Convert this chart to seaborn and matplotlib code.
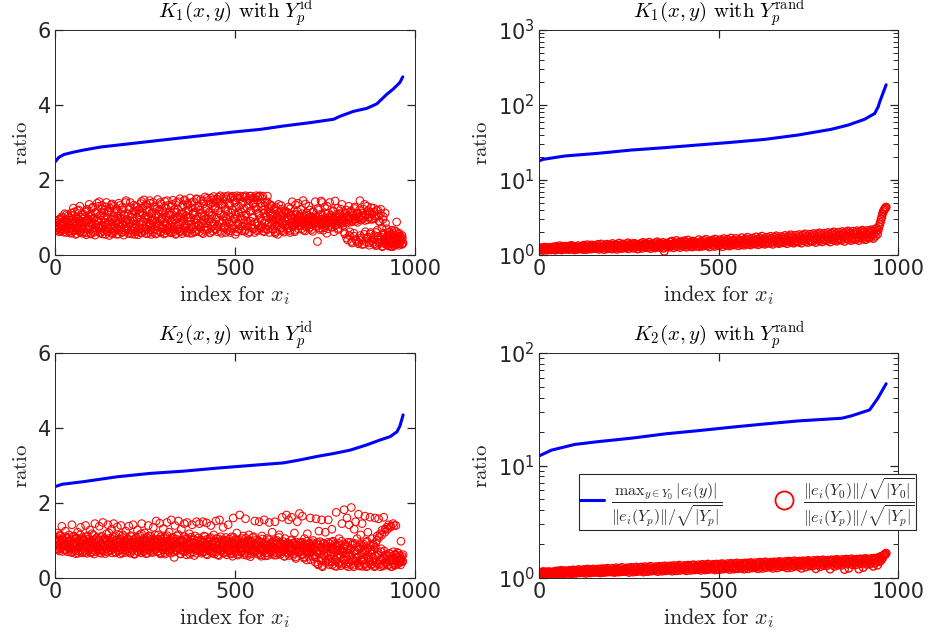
import numpy as np
import matplotlib
matplotlib.use("Agg")
import matplotlib.pyplot as plt
import seaborn as sns
from matplotlib.lines import Line2D
from matplotlib.font_manager import FontProperties
from matplotlib.ticker import LogLocator, NullFormatter

sns.set_theme(style="white")
plt.rcParams['font.family'] = ['DejaVu Sans']
AX_COLOR = "#262626"
plt.rcParams.update({
    "axes.axisbelow": False,
    "xtick.bottom": True, "xtick.top": True,
    "ytick.left": True, "ytick.right": True,
    "xtick.direction": "in", "ytick.direction": "in",
    "xtick.major.size": 6, "ytick.major.size": 6,
    "xtick.minor.size": 3.5, "ytick.minor.size": 3.5,
    "xtick.major.width": 0.9, "ytick.major.width": 0.9,
    "ytick.minor.width": 0.7,
    "xtick.color": AX_COLOR, "ytick.color": AX_COLOR,
    "xtick.labelsize": 15, "ytick.labelsize": 15,
})

# ---------------- data ----------------
# blue curves: (index, ratio)
k1_id_max_idx = [1, 10, 25, 50, 80, 127, 219, 311, 404, 496, 570, 635, 709, 774, 792, 829, 866, 894, 921, 940, 958, 966]
k1_id_max_val = [2.49, 2.60, 2.68, 2.74, 2.80, 2.88, 2.98, 3.08, 3.18, 3.28, 3.35, 3.44, 3.53, 3.62, 3.70, 3.83, 3.91, 4.03, 4.28, 4.43, 4.60, 4.75]

k1_rand_max_idx = [1, 10, 72, 165, 258, 351, 443, 536, 629, 722, 814, 861, 907, 935, 945, 949, 958, 967]
k1_rand_max_val = [18.0, 18.8, 20.9, 22.7, 25.1, 27.0, 29.3, 31.8, 34.8, 39.8, 47.4, 54.0, 64.5, 77.0, 95.0, 110.0, 143.0, 186.0]

k2_id_max_idx = [1, 20, 80, 173, 265, 358, 450, 542, 635, 681, 727, 774, 820, 866, 903, 931, 950, 958, 967]
k2_id_max_val = [2.44, 2.50, 2.57, 2.70, 2.79, 2.85, 2.93, 3.00, 3.07, 3.15, 3.24, 3.32, 3.41, 3.55, 3.68, 3.77, 3.90, 4.05, 4.35]

k2_rand_max_idx = [1, 35, 100, 165, 258, 351, 443, 536, 629, 722, 843, 870, 921, 944, 967]
k2_rand_max_val = [12.2, 13.7, 15.4, 16.3, 17.5, 19.1, 20.4, 21.9, 23.4, 24.9, 26.3, 27.6, 31.2, 39.7, 53.3]

# red circles: RMS ratio at odd indices (1, 3, 5, ...) and even indices (2, 4, 6, ...)
k1_id_rms_odd = [
    0.72, 0.80, 0.68, 0.90, 0.76, 0.62, 0.95, 0.84, 0.70, 1.02, 0.78, 0.66, 0.88, 1.10, 0.74, 0.60, 0.92, 0.81, 1.05, 0.69,
    0.85, 0.58, 1.12, 0.73, 0.95, 1.25, 0.64, 0.88, 0.55, 1.02, 0.79, 1.18, 0.67, 0.91, 1.30, 0.60, 0.83, 1.08, 0.71, 0.97,
    0.62, 1.15, 0.86, 0.54, 1.22, 0.93, 0.70, 1.35, 0.78, 0.58, 1.05, 0.88, 1.28, 0.66, 0.97, 0.53, 1.12, 0.81, 1.38, 0.74,
    0.90, 1.42, 0.60, 1.08, 0.77, 1.32, 0.56, 0.99, 1.20, 0.68, 0.87, 1.40, 0.63, 1.15, 0.82, 0.52, 1.25, 0.94, 0.71, 1.36,
    0.59, 1.02, 1.30, 0.76, 0.92, 0.55, 1.18, 0.84, 1.38, 0.66, 0.98, 1.10, 0.61, 1.27, 0.80, 0.53, 1.05, 0.89, 1.45, 0.72,
    0.95, 0.58, 1.22, 0.83, 1.40, 0.67, 1.08, 0.56, 0.91, 1.33, 0.75, 1.17, 0.62, 1.00, 1.28, 0.54, 0.86, 1.12, 0.70, 1.37,
    0.60, 1.25, 0.88, 1.47, 0.73, 1.03, 0.57, 1.35, 0.95, 0.66, 1.18, 1.45, 0.80, 0.55, 1.10, 0.92, 1.40, 0.69, 1.27, 0.84,
    1.05, 0.58, 1.48, 0.77, 1.20, 0.91, 0.62, 1.36, 1.00, 0.70, 1.13, 0.56, 1.43, 0.85, 1.24, 0.65, 0.97, 1.33, 0.74, 1.08,
    0.59, 1.30, 0.88, 1.46, 0.68, 1.15, 0.94, 0.55, 1.40, 0.79, 1.22, 1.02, 0.63, 1.50, 0.86, 1.10, 0.57, 1.34, 0.96, 0.72,
    1.45, 0.82, 1.18, 0.60, 1.38, 1.00, 0.70, 1.52, 0.90, 1.26, 0.58, 1.08, 1.42, 0.76, 1.15, 0.64, 1.50, 0.95, 1.30, 0.81,
    0.62, 1.20, 1.48, 0.87, 1.05, 0.57, 1.36, 0.75, 1.55, 0.98, 1.25, 0.66, 1.45, 0.89, 1.12, 0.60, 1.52, 1.03, 0.78, 1.40,
    1.56, 0.70, 1.30, 0.95, 1.50, 0.62, 1.18, 1.44, 0.84, 1.58, 1.07, 0.58, 1.36, 0.92, 1.55, 0.76, 1.22, 1.00, 1.48, 0.66,
    1.58, 0.88, 1.33, 0.60, 1.52, 1.12, 0.79, 1.57, 0.97, 1.40, 0.55, 1.27, 1.58, 0.85, 1.15, 0.70, 1.50, 1.03, 1.35, 0.64,
    1.56, 0.94, 1.24, 0.63, 1.58, 1.08, 0.82, 1.46, 0.58, 1.32, 1.57, 0.90, 1.18, 0.72, 1.52, 1.00, 1.40, 0.60, 1.28, 1.58,
    0.86, 1.55, 1.12, 0.66, 1.58, 0.98, 1.38, 0.75, 1.57, 1.20, 0.62, 1.30, 0.92, 1.05, 1.42, 0.68, 1.15, 0.85, 1.35, 0.96,
    1.32, 0.70, 1.10, 0.88, 1.25, 0.62, 0.98, 1.18, 0.80, 0.55, 1.35, 0.92, 1.05, 0.72, 1.22, 0.85, 0.65, 1.12, 0.95, 0.78,
    0.90, 1.15, 0.68, 0.98, 1.28, 0.82, 0.60, 1.05, 0.88, 1.42, 0.75, 0.95, 1.18, 0.66, 0.86, 1.08, 0.92, 1.38, 0.78, 1.00,
    0.86, 1.22, 0.70, 0.94, 1.45, 0.83, 1.05, 0.64, 0.90, 1.12, 0.80, 0.96, 1.30, 0.74, 0.88, 1.02, 0.68, 0.93, 1.16, 0.85,
    0.92, 1.42, 0.78, 1.00, 0.36, 0.88, 1.20, 0.72, 0.95, 1.44, 0.84, 1.06, 0.66, 0.91, 1.28, 0.80, 0.97, 0.58, 0.89, 1.12,
    0.86, 1.40, 0.94, 0.75, 1.02, 0.88, 1.18, 0.62, 0.92, 1.05, 0.82, 0.98, 1.25, 0.71, 0.90, 1.10, 0.85, 0.95, 1.35, 0.78,
    0.92, 1.08, 0.56, 0.98, 1.20, 0.85, 0.40, 1.02, 0.94, 0.62, 1.15, 0.88, 0.32, 1.05, 0.96, 0.50, 1.28, 0.90, 0.38, 1.00,
    1.12, 0.30, 0.95, 1.45, 0.45, 1.05, 0.28, 0.98, 1.22, 0.55, 0.92, 1.08, 0.35, 1.30, 0.48, 1.00, 0.26, 1.15, 0.60, 0.95,
    1.10, 0.33, 1.25, 0.52, 0.98, 0.25, 1.18, 0.66, 0.40, 1.05, 0.30, 0.88, 1.22, 0.47, 0.22, 0.95, 0.58, 0.36, 1.12, 0.28,
    0.70, 0.35, 0.52, 0.24, 0.62, 0.42, 0.30, 0.55, 0.22, 0.48, 0.38, 0.65, 0.28, 0.45, 0.88, 0.33, 0.56, 0.26, 0.42, 0.50,
    0.36, 0.28, 0.45, 0.32,
]
k1_id_rms_even = [
    0.78, 0.66, 0.85, 0.73, 0.94, 0.70, 0.82, 0.64, 0.98, 0.76, 0.88, 0.61, 0.80, 0.93, 0.68, 1.08, 0.75, 0.86, 0.63, 0.99,
    0.71, 0.92, 0.60, 1.05, 0.83, 0.67, 1.15, 0.77, 0.90, 0.57, 0.96, 0.72, 1.20, 0.84, 0.62, 1.00, 0.78, 0.58, 1.10, 0.87,
    0.76, 1.02, 0.59, 0.89, 1.18, 0.68, 0.95, 0.74, 1.08, 0.56, 0.84, 1.25, 0.71, 0.99, 0.61, 1.14, 0.80, 0.92, 0.65, 1.30,
    0.72, 1.05, 0.58, 0.93, 1.22, 0.79, 0.64, 1.12, 0.86, 0.55, 1.28, 0.75, 1.00, 0.62, 1.17, 0.88, 0.70, 1.34, 0.57, 0.97,
    0.83, 1.14, 0.63, 0.91, 1.24, 0.69, 1.03, 0.56, 0.87, 1.32, 0.74, 0.96, 0.60, 1.19, 0.82, 1.06, 0.66, 1.40, 0.78, 0.94,
    0.68, 1.10, 0.85, 0.57, 1.26, 0.76, 1.01, 0.63, 1.16, 0.90, 0.55, 1.30, 0.81, 0.97, 0.65, 1.21, 0.73, 1.07, 0.59, 1.43,
    0.79, 1.12, 0.64, 0.98, 1.32, 0.71, 0.87, 1.20, 0.58, 1.04, 0.82, 1.38, 0.67, 0.93, 1.15, 0.61, 1.28, 0.77, 1.00, 0.56,
    0.90, 1.24, 0.66, 1.09, 0.81, 1.40, 0.60, 0.97, 1.17, 0.73, 0.88, 1.30, 0.59, 1.03, 0.79, 1.45, 0.68, 1.12, 0.92, 0.63,
    1.06, 0.74, 1.35, 0.61, 0.95, 1.21, 0.84, 0.57, 1.14, 0.98, 0.69, 1.42, 0.80, 1.01, 0.62, 1.28, 0.89, 1.10, 0.66, 1.47,
    0.77, 1.05, 0.63, 1.33, 0.91, 1.18, 0.58, 1.00, 0.82, 1.40, 0.70, 1.12, 0.94, 0.61, 1.26, 0.86, 1.48, 0.67, 1.03, 0.79,
    1.30, 0.73, 1.10, 0.60, 1.44, 0.92, 1.02, 0.66, 1.22, 0.84, 1.51, 0.71, 0.97, 1.15, 0.59, 1.36, 0.88, 1.06, 0.64, 1.47,
    0.82, 1.24, 0.68, 1.40, 1.00, 0.76, 1.54, 0.90, 1.13, 0.63, 1.33, 0.86, 1.49, 0.72, 1.05, 1.27, 0.60, 1.56, 0.95, 1.17,
    0.74, 1.38, 1.02, 0.65, 1.55, 0.89, 1.20, 0.70, 1.46, 0.96, 1.09, 0.62, 1.52, 0.81, 1.30, 0.68, 1.57, 0.93, 1.14, 0.77,
    1.42, 0.85, 1.04, 0.67, 1.55, 0.91, 1.26, 0.74, 1.48, 0.62, 1.16, 1.57, 0.80, 1.00, 1.36, 0.70, 1.52, 0.88, 1.21, 0.65,
    1.45, 0.78, 1.08, 1.56, 0.72, 1.29, 0.90, 1.50, 0.64, 1.12, 0.86, 1.40, 0.69, 1.02, 1.57, 0.81, 1.24, 0.60, 1.10, 1.30,
    0.82, 1.05, 0.68, 1.20, 0.93, 0.58, 1.28, 0.76, 1.00, 0.87, 1.14, 0.66, 0.95, 1.32, 0.73, 1.08, 0.84, 0.61, 1.18, 0.90,
    0.80, 1.02, 0.72, 1.12, 0.93, 0.65, 1.24, 0.86, 0.98, 0.76, 1.08, 0.89, 0.62, 1.34, 0.83, 0.95, 1.16, 0.70, 0.91, 1.04,
    0.92, 0.78, 1.10, 0.87, 0.66, 1.00, 0.84, 1.36, 0.75, 0.95, 1.06, 0.88, 0.71, 1.20, 0.90, 0.81, 0.99, 0.63, 1.14, 0.86,
    0.89, 1.02, 0.76, 0.94, 1.24, 0.84, 0.68, 1.08, 0.91, 0.80, 1.40, 0.87, 0.97, 0.73, 1.12, 0.92, 0.85, 1.30, 0.70, 1.00,
    0.93, 0.82, 1.06, 0.89, 0.74, 1.16, 0.96, 0.86, 1.44, 0.79, 1.00, 0.91, 0.68, 1.10, 0.88, 0.95, 1.22, 0.84, 1.02, 0.90,
    0.97, 0.60, 1.12, 0.88, 0.45, 1.04, 0.93, 1.30, 0.52, 0.99, 1.18, 0.36, 0.91, 1.06, 0.58, 1.24, 0.95, 0.42, 1.10, 0.87,
    0.34, 1.02, 1.20, 0.52, 0.93, 0.40, 1.12, 0.98, 0.29, 1.35, 0.62, 1.06, 0.44, 0.94, 1.18, 0.32, 1.00, 0.56, 1.26, 0.38,
    0.96, 0.46, 1.15, 0.30, 1.04, 0.60, 0.26, 1.20, 0.50, 0.90, 0.34, 1.10, 0.42, 0.72, 0.24, 1.02, 0.54, 0.31, 0.85, 0.44,
    0.48, 0.27, 0.60, 0.38, 0.52, 0.23, 0.44, 0.66, 0.32, 0.57, 0.25, 0.46, 0.36, 0.62, 0.29, 0.50, 0.40, 0.58, 0.31, 0.47,
    0.40, 0.52, 0.30,
]

k2_id_rms_odd = [
    0.92, 1.05, 0.78, 1.20, 0.88, 0.98, 0.72, 1.12, 0.95, 1.38, 0.84, 1.02, 0.76, 0.93, 1.25, 0.86, 1.08, 0.70, 0.97, 1.15,
    0.82, 1.00, 0.68, 1.42, 0.90, 1.10, 0.75, 0.95, 0.65, 1.05, 0.87, 1.22, 0.72, 0.98, 0.80, 1.35, 0.92, 0.67, 1.08, 0.85,
    1.02, 0.74, 1.40, 0.88, 0.66, 1.12, 0.95, 0.78, 1.28, 0.84, 1.00, 0.70, 0.93, 1.15, 0.64, 1.45, 0.89, 1.05, 0.76, 0.97,
    0.82, 1.38, 0.68, 1.08, 0.92, 0.75, 1.48, 0.86, 1.02, 0.65, 0.96, 1.18, 0.79, 1.42, 0.90, 0.72, 1.06, 0.84, 1.30, 0.67,
    0.98, 1.45, 0.80, 1.12, 0.69, 0.93, 1.36, 0.86, 0.74, 1.04, 0.64, 1.40, 0.91, 0.78, 1.15, 0.83, 0.97, 0.68, 1.25, 0.88,
    0.72, 1.02, 1.38, 0.85, 0.66, 0.95, 1.10, 0.77, 1.42, 0.89, 0.63, 1.05, 0.82, 0.96, 1.28, 0.70, 0.92, 1.15, 0.80, 0.67,
    1.45, 0.88, 1.00, 0.73, 1.20, 0.94, 0.65, 1.08, 0.83, 1.40, 0.76, 0.97, 1.12, 0.69, 0.90, 0.81, 1.35, 1.02, 0.74, 0.87,
    1.52, 0.95, 0.70, 1.15, 0.85, 1.46, 0.64, 1.04, 0.90, 0.77, 1.32, 0.98, 0.68, 1.10, 0.83, 1.48, 0.93, 0.75, 1.22, 0.87,
    0.66, 1.55, 0.96, 0.80, 1.06, 0.55, 1.40, 0.88, 0.73, 1.12, 0.92, 1.52, 0.78, 1.00, 0.64, 1.30, 0.86, 0.97, 0.70, 1.45,
    0.84, 1.05, 0.62, 1.48, 0.91, 0.76, 1.18, 0.87, 0.68, 1.02, 1.42, 0.80, 0.94, 0.60, 1.12, 0.85, 1.50, 0.73, 0.99, 0.88,
    1.45, 0.78, 1.02, 0.66, 0.93, 1.50, 0.82, 0.70, 1.10, 0.88, 1.47, 0.62, 0.97, 0.75, 1.05, 0.84, 1.40, 0.69, 0.92, 0.80,
    1.15, 0.64, 0.96, 1.52, 0.77, 0.87, 1.05, 0.60, 1.55, 0.90, 0.72, 1.00, 0.83, 1.35, 0.68, 0.94, 0.79, 1.08, 0.62, 0.88,
    1.42, 0.75, 0.98, 0.66, 0.86, 1.10, 0.58, 1.60, 0.92, 0.71, 1.02, 0.82, 1.20, 0.64, 0.95, 0.77, 1.68, 0.87, 0.69, 1.05,
    0.80, 1.12, 0.62, 0.93, 1.58, 0.74, 0.86, 1.00, 0.66, 1.15, 0.84, 0.57, 0.97, 0.78, 1.08, 0.68, 0.90, 1.52, 0.73, 0.85,
    1.02, 0.64, 0.88, 1.50, 0.76, 0.95, 0.58, 1.12, 0.82, 0.70, 1.55, 0.92, 0.67, 0.86, 1.05, 0.60, 0.79, 1.48, 0.90, 0.72,
    0.84, 1.22, 0.65, 0.96, 0.77, 1.50, 0.88, 0.61, 1.00, 0.74, 0.85, 1.15, 0.68, 0.93, 0.80, 1.62, 0.71, 0.87, 0.58, 1.05,
    0.78, 1.68, 0.90, 0.66, 1.55, 0.83, 0.72, 1.00, 1.62, 0.80, 0.60, 0.94, 1.20, 0.75, 0.52, 0.88, 1.50, 0.70, 0.85, 1.72,
    0.76, 0.95, 0.64, 1.65, 0.82, 0.56, 1.05, 0.73, 0.90, 0.48, 1.18, 0.80, 0.67, 0.92, 1.60, 0.70, 0.84, 0.58, 1.00, 0.75,
    0.88, 0.42, 1.58, 0.74, 0.95, 0.35, 1.25, 0.66, 0.82, 0.52, 1.55, 0.30, 0.90, 0.62, 0.78, 1.22, 0.45, 0.86, 0.70, 1.55,
    0.36, 0.92, 0.58, 0.80, 1.30, 0.44, 0.98, 0.68, 0.32, 0.85, 1.75, 0.55, 0.75, 0.40, 1.05, 0.62, 0.88, 0.33, 1.45, 0.72,
    0.50, 1.82, 0.85, 0.38, 0.68, 1.60, 0.95, 0.30, 1.42, 0.60, 0.78, 1.88, 0.45, 0.92, 0.34, 1.30, 0.72, 1.50, 0.55, 1.05,
    0.40, 1.70, 0.82, 0.32, 1.15, 0.62, 1.45, 0.48, 0.90, 0.36, 1.65, 0.70, 0.30, 0.98, 1.22, 0.55, 0.42, 1.62, 0.75, 0.35,
    1.05, 0.52, 0.88, 0.30, 1.60, 0.95, 0.42, 1.12, 0.62, 1.58, 0.36, 1.18, 0.70, 0.48, 1.28, 0.32, 1.62, 0.55, 1.30, 0.40,
    1.35, 0.58, 0.34, 1.42, 0.65, 0.45, 1.38, 0.30, 0.52, 1.45, 0.40, 0.62, 0.35, 1.40, 0.55, 0.68, 0.38, 0.48, 0.60, 0.42,
    0.98, 0.52, 0.45, 0.62,
]
k2_id_rms_even = [
    0.95, 0.82, 1.08, 0.76, 1.00, 0.88, 1.15, 0.79, 0.93, 1.02, 0.71, 0.97, 0.86, 1.10, 0.74, 0.91, 1.05, 0.80, 0.99, 0.84,
    0.90, 0.77, 1.04, 0.69, 0.96, 1.12, 0.81, 0.93, 0.72, 1.07, 0.88, 0.66, 1.00, 0.83, 1.15, 0.75, 0.94, 1.03, 0.70, 0.87,
    0.98, 0.68, 1.10, 0.85, 0.92, 0.73, 1.05, 0.80, 0.96, 0.67, 1.18, 0.89, 0.76, 1.01, 0.83, 0.94, 0.70, 1.08, 0.86, 0.78,
    1.02, 0.74, 0.91, 0.66, 1.12, 0.84, 0.97, 0.72, 1.06, 0.88, 0.79, 1.00, 0.69, 0.93, 1.20, 0.81, 0.95, 0.75, 1.04, 0.87,
    0.77, 1.08, 0.90, 0.68, 1.01, 0.83, 0.96, 0.72, 1.14, 0.86, 0.79, 1.03, 0.67, 0.94, 0.88, 1.10, 0.74, 0.99, 0.82, 0.92,
    1.05, 0.78, 0.90, 0.69, 1.13, 0.85, 0.97, 0.74, 1.02, 0.65, 0.93, 0.81, 1.08, 0.88, 0.71, 1.00, 0.84, 0.95, 0.76, 1.18,
    0.82, 0.96, 0.70, 1.06, 0.87, 0.78, 1.00, 0.66, 0.92, 1.12, 0.80, 0.94, 0.73, 1.04, 0.86, 0.68, 0.98, 0.83, 1.15, 0.76,
    0.91, 1.03, 0.72, 0.88, 0.99, 0.67, 1.10, 0.82, 0.95, 0.75, 1.06, 0.86, 0.64, 0.97, 0.80, 1.13, 0.89, 0.71, 1.01, 0.84,
    0.93, 0.77, 1.08, 0.85, 0.69, 0.98, 0.82, 1.04, 0.73, 0.90, 1.16, 0.79, 0.94, 0.65, 1.02, 0.87, 0.75, 0.99, 0.83, 1.10,
    0.71, 0.92, 0.86, 1.05, 0.76, 0.97, 0.63, 0.89, 1.09, 0.81, 0.95, 0.70, 1.02, 0.84, 0.78, 0.99, 0.66, 0.91, 1.07, 0.80,
    0.88, 0.74, 1.00, 0.82, 0.69, 0.95, 1.12, 0.79, 0.90, 0.64, 1.03, 0.85, 0.77, 0.96, 0.71, 1.08, 0.83, 0.92, 0.67, 0.98,
    0.81, 0.93, 0.70, 1.05, 0.86, 0.62, 0.97, 0.78, 0.89, 1.10, 0.73, 0.94, 0.83, 0.66, 1.01, 0.87, 0.76, 0.99, 0.69, 0.91,
    0.84, 1.04, 0.72, 0.88, 0.64, 0.96, 0.80, 1.08, 0.75, 0.92, 0.68, 0.99, 0.85, 0.61, 1.02, 0.79, 0.90, 0.71, 0.95, 0.83,
    0.76, 0.97, 0.66, 0.89, 1.06, 0.80, 0.60, 0.93, 0.84, 0.73, 1.00, 0.87, 0.64, 0.95, 0.78, 1.10, 0.70, 0.86, 0.91, 0.74,
    0.88, 0.68, 0.99, 0.81, 0.62, 0.94, 0.77, 1.04, 0.72, 0.90, 0.85, 0.59, 0.97, 0.79, 0.87, 0.66, 1.02, 0.75, 0.92, 0.83,
    0.70, 0.95, 0.82, 0.61, 1.00, 0.78, 0.89, 0.67, 0.93, 0.74, 1.08, 0.85, 0.63, 0.91, 0.80, 0.72, 0.97, 0.86, 0.58, 0.88,
    0.82, 0.69, 0.94, 0.77, 0.60, 0.90, 0.84, 0.72, 1.02, 0.79, 0.65, 0.92, 0.86, 0.56, 0.96, 0.74, 0.88, 0.68, 0.81, 0.93,
    0.71, 0.87, 0.62, 0.95, 0.78, 0.53, 0.90, 0.83, 0.66, 0.98, 0.74, 0.58, 0.92, 0.80, 0.49, 0.86, 0.69, 0.94, 0.76, 0.61,
    0.84, 0.55, 0.92, 0.70, 0.38, 0.88, 0.64, 0.97, 0.46, 0.80, 0.33, 0.74, 0.93, 0.58, 0.85, 0.41, 0.78, 0.67, 0.95, 0.50,
    0.82, 0.43, 0.70, 0.96, 0.35, 0.77, 0.60, 0.89, 0.47, 0.72, 0.31, 0.85, 0.64, 0.92, 0.40, 0.76, 0.55, 0.98, 0.37, 0.68,
    0.79, 0.45, 0.90, 0.58, 0.33, 0.84, 0.66, 0.41, 0.75, 0.95, 0.36, 0.62, 0.87, 0.50, 0.30, 0.73, 0.92, 0.44, 0.65, 0.82,
    0.56, 0.34, 0.78, 0.92, 0.46, 0.68, 0.31, 0.85, 0.52, 0.74, 0.39, 0.95, 0.60, 0.33, 0.80, 0.48, 0.70, 0.88, 0.37, 0.64,
    0.90, 0.44, 0.75, 0.33, 0.82, 0.58, 1.00, 0.38, 0.68, 1.08, 0.47, 0.30, 0.78, 1.15, 0.54, 0.36, 0.72, 1.22, 0.43, 0.62,
    0.50, 1.30, 0.36, 0.66, 0.44, 1.36, 0.31, 0.58, 0.48, 0.70, 1.40, 0.34, 0.62, 0.45, 0.55, 0.38, 0.66, 0.42, 0.52, 0.35,
    0.48, 0.58, 0.44,
]

k1_rand_rms_odd = [
    1.21, 1.17, 1.25, 1.19, 1.23, 1.15, 1.22, 1.27, 1.18, 1.24, 1.20, 1.16, 1.26, 1.22, 1.19, 1.25, 1.17, 1.23, 1.21, 1.28,
    1.19, 1.26, 1.16, 1.30, 1.22, 1.18, 1.27, 1.24, 1.33, 1.20, 1.25, 1.17, 1.29, 1.23, 1.21, 1.31, 1.19, 1.26, 1.22, 1.28,
    1.24, 1.18, 1.32, 1.21, 1.27, 1.34, 1.20, 1.25, 1.29, 1.17, 1.30, 1.23, 1.26, 1.19, 1.33, 1.22, 1.28, 1.25, 1.20, 1.31,
    1.26, 1.19, 1.35, 1.23, 1.30, 1.18, 1.28, 1.37, 1.24, 1.21, 1.32, 1.27, 1.20, 1.36, 1.25, 1.29, 1.22, 1.34, 1.26, 1.31,
    1.22, 1.38, 1.28, 1.19, 1.33, 1.25, 1.40, 1.23, 1.30, 1.27, 1.18, 1.35, 1.29, 1.24, 1.39, 1.21, 1.32, 1.26, 1.36, 1.28,
    1.31, 1.20, 1.42, 1.27, 1.34, 1.23, 1.38, 1.30, 1.19, 1.36, 1.28, 1.44, 1.25, 1.33, 1.29, 1.22, 1.40, 1.32, 1.26, 1.37,
    1.24, 1.35, 1.30, 1.45, 1.21, 1.38, 1.33, 1.27, 1.41, 1.29, 1.36, 1.23, 1.43, 1.31, 1.26, 1.39, 1.34, 1.20, 1.37, 1.32,
    1.28, 1.42, 1.35, 1.23, 1.47, 1.31, 1.38, 1.26, 1.44, 1.33, 1.40, 1.25, 1.36, 1.48, 1.30, 1.22, 1.41, 1.34, 1.39, 1.29,
    1.37, 1.24, 1.45, 1.32, 1.50, 1.28, 1.40, 1.35, 1.26, 1.43, 1.38, 1.31, 1.47, 1.23, 1.12, 1.36, 1.42, 1.29, 1.44, 1.34,
    1.40, 1.27, 1.49, 1.35, 1.31, 1.53, 1.38, 1.25, 1.44, 1.41, 1.33, 1.56, 1.29, 1.46, 1.37, 1.42, 1.26, 1.51, 1.39, 1.34,
    1.43, 1.30, 1.55, 1.38, 1.47, 1.27, 1.41, 1.58, 1.35, 1.45, 1.32, 1.50, 1.40, 1.28, 1.53, 1.44, 1.37, 1.48, 1.31, 1.42,
    1.46, 1.34, 1.60, 1.29, 1.43, 1.52, 1.38, 1.48, 1.31, 1.56, 1.41, 1.36, 1.62, 1.45, 1.33, 1.50, 1.40, 1.28, 1.54, 1.47,
    1.44, 1.58, 1.35, 1.50, 1.30, 1.63, 1.46, 1.40, 1.55, 1.33, 1.48, 1.42, 1.60, 1.37, 1.52, 1.29, 1.45, 1.65, 1.39, 1.51,
    1.47, 1.34, 1.62, 1.42, 1.55, 1.32, 1.50, 1.68, 1.38, 1.45, 1.58, 1.36, 1.53, 1.43, 1.66, 1.40, 1.49, 1.33, 1.60, 1.46,
    1.52, 1.37, 1.70, 1.44, 1.57, 1.35, 1.49, 1.64, 1.41, 1.55, 1.72, 1.39, 1.47, 1.60, 1.36, 1.53, 1.45, 1.68, 1.42, 1.58,
    1.55, 1.40, 1.74, 1.48, 1.62, 1.37, 1.52, 1.69, 1.44, 1.58, 1.78, 1.42, 1.50, 1.65, 1.39, 1.57, 1.47, 1.72, 1.45, 1.60,
    1.59, 1.43, 1.77, 1.51, 1.66, 1.39, 1.56, 1.73, 1.48, 1.62, 1.80, 1.45, 1.54, 1.70, 1.42, 1.61, 1.50, 1.76, 1.47, 1.64,
    1.63, 1.46, 1.82, 1.55, 1.71, 1.42, 1.60, 1.78, 1.52, 1.67, 1.86, 1.48, 1.58, 1.75, 1.44, 1.65, 1.54, 1.83, 1.50, 1.69,
    1.67, 1.49, 1.87, 1.59, 1.76, 1.44, 1.64, 1.84, 1.55, 1.72, 1.91, 1.51, 1.62, 1.80, 1.47, 1.70, 1.58, 1.89, 1.53, 1.74,
    1.72, 1.52, 1.93, 1.63, 1.82, 1.47, 1.69, 1.90, 1.58, 1.78, 1.97, 1.55, 1.67, 1.86, 1.50, 1.75, 1.62, 1.95, 1.57, 1.80,
    1.77, 1.55, 1.99, 1.67, 1.88, 1.49, 1.74, 1.96, 1.61, 1.84, 2.03, 1.58, 1.71, 1.92, 1.53, 1.81, 1.66, 2.01, 1.60, 1.86,
    1.82, 1.58, 2.05, 1.71, 1.94, 1.52, 1.79, 2.02, 1.64, 1.90, 2.09, 1.61, 1.76, 1.98, 1.56, 1.87, 1.70, 2.07, 1.63, 1.92,
    1.88, 1.62, 2.10, 1.75, 2.00, 1.56, 1.85, 2.08, 1.68, 1.96, 2.14, 1.65, 1.81, 2.04, 1.60, 1.93, 1.74, 2.12, 1.67, 1.98,
    1.95, 1.70, 2.16, 1.82, 2.06, 1.66, 1.92, 2.20, 1.78, 2.05, 2.28, 1.90, 2.15, 2.38, 2.55, 2.75, 2.98, 3.25, 3.55, 3.80,
    3.95, 4.10, 4.25, 4.35,
]

k2_rand_rms_odd = [
    1.10, 1.12, 1.08, 1.13, 1.09, 1.11, 1.14, 1.08, 1.12, 1.10, 1.13, 1.09, 1.11, 1.14, 1.10, 1.08, 1.12, 1.13, 1.09, 1.11,
    1.12, 1.09, 1.15, 1.11, 1.13, 1.10, 1.16, 1.12, 1.09, 1.14, 1.11, 1.17, 1.10, 1.13, 1.15, 1.09, 1.12, 1.16, 1.11, 1.14,
    1.13, 1.10, 1.17, 1.12, 1.15, 1.09, 1.14, 1.18, 1.11, 1.16, 1.13, 1.10, 1.17, 1.12, 1.15, 1.19, 1.11, 1.14, 1.16, 1.12,
    1.15, 1.11, 1.19, 1.13, 1.17, 1.10, 1.16, 1.20, 1.12, 1.18, 1.14, 1.11, 1.19, 1.15, 1.13, 1.20, 1.12, 1.17, 1.15, 1.14,
    1.16, 1.12, 1.20, 1.14, 1.18, 1.11, 1.17, 1.21, 1.13, 1.19, 1.15, 1.12, 1.21, 1.16, 1.14, 1.22, 1.13, 1.18, 1.16, 1.15,
    1.17, 1.13, 1.22, 1.15, 1.19, 1.12, 1.18, 1.23, 1.14, 1.20, 1.16, 1.13, 1.22, 1.17, 1.15, 1.24, 1.14, 1.19, 1.17, 1.16,
    1.18, 1.14, 1.23, 1.16, 1.21, 1.12, 1.19, 1.24, 1.15, 1.22, 1.17, 1.13, 1.24, 1.18, 1.16, 1.25, 1.14, 1.21, 1.19, 1.17,
    1.20, 1.15, 1.25, 1.17, 1.22, 1.13, 1.21, 1.26, 1.16, 1.23, 1.19, 1.14, 1.25, 1.20, 1.17, 1.27, 1.15, 1.22, 1.20, 1.18,
    1.21, 1.16, 1.26, 1.18, 1.24, 1.14, 1.22, 1.27, 1.17, 1.25, 1.20, 1.15, 1.27, 1.21, 1.18, 1.28, 1.16, 1.24, 1.22, 1.19,
    1.22, 1.17, 1.28, 1.19, 1.25, 1.15, 1.23, 1.29, 1.18, 1.26, 1.21, 1.16, 1.28, 1.23, 1.19, 1.30, 1.17, 1.25, 1.23, 1.20,
    1.24, 1.18, 1.29, 1.20, 1.27, 1.16, 1.25, 1.30, 1.19, 1.28, 1.22, 1.17, 1.30, 1.24, 1.20, 1.31, 1.18, 1.27, 1.25, 1.21,
    1.25, 1.19, 1.31, 1.21, 1.28, 1.17, 1.26, 1.32, 1.20, 1.29, 1.23, 1.18, 1.31, 1.25, 1.21, 1.33, 1.19, 1.28, 1.26, 1.22,
    1.27, 1.20, 1.32, 1.22, 1.30, 1.18, 1.28, 1.33, 1.21, 1.31, 1.25, 1.19, 1.33, 1.27, 1.22, 1.34, 1.20, 1.30, 1.28, 1.24,
    1.28, 1.21, 1.34, 1.24, 1.31, 1.19, 1.29, 1.35, 1.22, 1.32, 1.26, 1.20, 1.34, 1.28, 1.24, 1.36, 1.21, 1.31, 1.29, 1.25,
    1.30, 1.22, 1.35, 1.25, 1.33, 1.20, 1.31, 1.36, 1.24, 1.34, 1.28, 1.21, 1.36, 1.30, 1.25, 1.37, 1.23, 1.33, 1.31, 1.26,
    1.31, 1.23, 1.37, 1.26, 1.34, 1.21, 1.32, 1.38, 1.25, 1.35, 1.29, 1.22, 1.37, 1.31, 1.27, 1.39, 1.24, 1.34, 1.32, 1.28,
    1.33, 1.25, 1.38, 1.28, 1.36, 1.22, 1.34, 1.39, 1.27, 1.37, 1.31, 1.23, 1.39, 1.33, 1.29, 1.40, 1.26, 1.36, 1.34, 1.30,
    1.34, 1.26, 1.40, 1.29, 1.37, 1.23, 1.35, 1.41, 1.28, 1.38, 1.32, 1.24, 1.40, 1.34, 1.30, 1.42, 1.27, 1.37, 1.35, 1.31,
    1.36, 1.27, 1.41, 1.31, 1.39, 1.22, 1.37, 1.42, 1.30, 1.40, 1.34, 1.25, 1.42, 1.36, 1.32, 1.43, 1.28, 1.39, 1.37, 1.33,
    1.37, 1.28, 1.43, 1.32, 1.40, 1.21, 1.38, 1.44, 1.31, 1.41, 1.35, 1.26, 1.43, 1.37, 1.33, 1.45, 1.29, 1.40, 1.38, 1.34,
    1.39, 1.29, 1.44, 1.33, 1.42, 1.20, 1.40, 1.45, 1.32, 1.43, 1.36, 1.27, 1.45, 1.39, 1.34, 1.46, 1.30, 1.42, 1.40, 1.35,
    1.40, 1.30, 1.46, 1.35, 1.43, 1.19, 1.41, 1.47, 1.33, 1.44, 1.38, 1.22, 1.46, 1.40, 1.36, 1.48, 1.31, 1.43, 1.41, 1.37,
    1.42, 1.31, 1.47, 1.36, 1.45, 1.20, 1.43, 1.48, 1.34, 1.46, 1.39, 1.24, 1.48, 1.42, 1.37, 1.49, 1.32, 1.45, 1.43, 1.38,
    1.44, 1.33, 1.49, 1.38, 1.47, 1.27, 1.45, 1.50, 1.36, 1.48, 1.41, 1.30, 1.52, 1.46, 1.40, 1.55, 1.44, 1.56, 1.50, 1.58,
    1.60, 1.63, 1.62, 1.66,
]

titles = [
    r"$K_1(x,y)\ \mathrm{with}\ Y_p^{\mathrm{id}}$",
    r"$K_1(x,y)\ \mathrm{with}\ Y_p^{\mathrm{rand}}$",
    r"$K_2(x,y)\ \mathrm{with}\ Y_p^{\mathrm{id}}$",
    r"$K_2(x,y)\ \mathrm{with}\ Y_p^{\mathrm{rand}}$",
]
xlabel_text = r"$\mathrm{index\ for}\ x_i$"
ylabel_text = r"$\mathrm{ratio}$"
legend_labels = [
    r"$\dfrac{\mathrm{max}_{y\in Y_0}\,|e_i(y)|}{\Vert e_i(Y_p)\Vert/\sqrt{|Y_p|}}$",
    r"$\dfrac{\Vert e_i(Y_0)\Vert/\sqrt{|Y_0|}}{\Vert e_i(Y_p)\Vert/\sqrt{|Y_p|}}$",
]

# ---------------- figure ----------------
W, H = 930, 637
fig = plt.figure(figsize=(W / 100, H / 100), dpi=100)

def px_axes(left, top, right, bottom):
    return fig.add_axes([left / W, 1 - bottom / H, (right - left) / W, (bottom - top) / H])

axes = [
    px_axes(55, 30, 415, 255),
    px_axes(539, 30, 898, 255),
    px_axes(55, 353, 415, 578),
    px_axes(539, 353, 898, 578),
]

def rms_points(odd, even=None):
    xs = list(1 + 2 * np.arange(len(odd)))
    ys = list(odd)
    if even is not None:
        xs += list(2 + 2 * np.arange(len(even)))
        ys += list(even)
    return np.array(xs), np.array(ys)

panels = [
    (k1_id_max_idx, k1_id_max_val, rms_points(k1_id_rms_odd, k1_id_rms_even), False, (0, 6)),
    (k1_rand_max_idx, k1_rand_max_val, rms_points(k1_rand_rms_odd), True, (1, 1000)),
    (k2_id_max_idx, k2_id_max_val, rms_points(k2_id_rms_odd, k2_id_rms_even), False, (0, 6)),
    (k2_rand_max_idx, k2_rand_max_val, rms_points(k2_rand_rms_odd), True, (1, 100)),
]

BLUE = "#0000ff"
RED = "#ff0000"

for ax, title, (mi, mv, (rx, ry), logy, ylim) in zip(axes, titles, panels):
    sns.lineplot(x=mi, y=mv, ax=ax, color=BLUE, linewidth=2.2, estimator=None)
    sns.scatterplot(x=rx, y=ry, ax=ax, marker="o", s=30, color=RED,
                    linewidth=0.95 if logy else 0.75)
    pts = ax.collections[-1]
    pts.set_facecolor("none")
    pts.set_edgecolor(RED)

    ax.set_xlim(0, 1000)
    ax.set_xticks([0, 500, 1000])
    if logy:
        ax.set_yscale("log")
        ax.set_ylim(*ylim)
        ax.yaxis.set_minor_locator(LogLocator(base=10, subs=np.arange(2, 10)))
        ax.yaxis.set_minor_formatter(NullFormatter())
    else:
        ax.set_ylim(*ylim)
        ax.set_yticks([0, 2, 4, 6])

    ax.set_axisbelow(False)
    ax.tick_params(axis="both", which="both", direction="in",
                   bottom=True, top=True, left=True, right=True)
    ax.tick_params(which="major", length=6, width=0.9, labelsize=15,
                   color=AX_COLOR, labelcolor=AX_COLOR, pad=3)
    ax.tick_params(axis="y", which="minor", length=3.5, width=0.7, color=AX_COLOR)
    for sp in ax.spines.values():
        sp.set_visible(True)
        sp.set_color(AX_COLOR)
        sp.set_linewidth(0.7)
        sp.set_zorder(3)

    ax.set_title(title, fontsize=15, math_fontfamily="cm", color="black", pad=0)
    ax.set_xlabel(xlabel_text, fontsize=16, math_fontfamily="cm", color=AX_COLOR, labelpad=3)
    ax.set_ylabel(ylabel_text, fontsize=15, math_fontfamily="cm", color=AX_COLOR, labelpad=5)

# legend inside the lower-right panel
handles = [
    Line2D([], [], color=BLUE, linewidth=2.2),
    Line2D([], [], linestyle="none", marker="o", markersize=13, markerfacecolor="none",
           markeredgecolor=RED, markeredgewidth=1.3),
]
leg = axes[3].legend(handles, legend_labels, loc="upper left", bbox_to_anchor=(0.111, 0.462),
                     borderaxespad=0, ncol=2, frameon=True, fancybox=False, framealpha=1,
                     prop=FontProperties(size=11.5, math_fontfamily="cm"),
                     handlelength=1.5, handletextpad=0.4, columnspacing=3.1,
                     borderpad=0.1)
leg.get_frame().set_edgecolor(AX_COLOR)
leg.get_frame().set_linewidth(0.8)

fig.savefig("out.png", dpi=100)
